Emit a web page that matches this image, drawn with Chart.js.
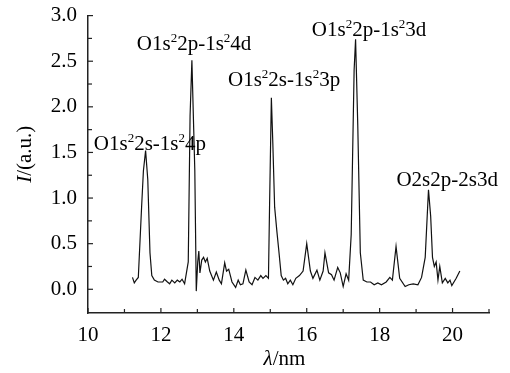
<!DOCTYPE html>
<html>
<head>
<meta charset="utf-8">
<script src="https://cdn.jsdelivr.net/npm/chart.js@4.4.0/dist/chart.umd.min.js"></script>
<style>
  body { margin: 0; background: #fff; }
  #wrap { width: 510px; height: 373px; }
</style>
</head>
<body>
<div id="wrap"><canvas id="spectrum"></canvas></div>
<script>
// Spectrum: wavelength (nm) and intensity (a.u.)
const wavelength = [
  11.22, 11.27, 11.32, 11.38, 11.47, 11.52, 11.58, 11.64, 11.70, 11.75,
  11.82, 11.92, 12.05, 12.10, 12.18, 12.24, 12.30, 12.38, 12.45, 12.52,
  12.58, 12.65, 12.75, 12.80, 12.85, 12.90, 12.93, 12.97, 13.01, 13.04,
  13.07, 13.12, 13.17, 13.22, 13.27, 13.34, 13.44, 13.52, 13.60, 13.66,
  13.75, 13.80, 13.86, 13.95, 14.05, 14.12, 14.18, 14.25, 14.33, 14.42,
  14.50, 14.58, 14.66, 14.74, 14.80, 14.88, 14.95, 14.98, 15.03, 15.07,
  15.12, 15.18, 15.24, 15.30, 15.36, 15.42, 15.48, 15.55, 15.62, 15.70,
  15.80, 15.90, 16.00, 16.10, 16.17, 16.28, 16.36, 16.45, 16.50, 16.60,
  16.68, 16.75, 16.85, 16.92, 17.00, 17.08, 17.15, 17.22, 17.30, 17.34,
  17.40, 17.47, 17.55, 17.65, 17.75, 17.85, 17.95, 18.05, 18.18, 18.28,
  18.35, 18.45, 18.55, 18.70, 18.80, 18.92, 19.05, 19.15, 19.25, 19.34,
  19.40, 19.45, 19.50, 19.55, 19.60, 19.65, 19.72, 19.80, 19.87, 19.93,
  19.98, 20.10, 20.20
];
const intensity = [
  0.13, 0.07, 0.10, 0.13, 0.90, 1.30, 1.52, 1.20, 0.40, 0.15,
  0.10, 0.08, 0.08, 0.11, 0.08, 0.06, 0.10, 0.07, 0.10, 0.08,
  0.11, 0.06, 0.30, 1.90, 2.51, 1.75, 1.30, -0.02, 0.30, 0.42,
  0.18, 0.32, 0.35, 0.30, 0.34, 0.20, 0.10, 0.19, 0.10, 0.06,
  0.29, 0.20, 0.22, 0.08, 0.02, 0.10, 0.05, 0.06, 0.21, 0.08,
  0.05, 0.13, 0.10, 0.15, 0.12, 0.15, 0.12, 0.90, 2.10, 1.60,
  0.90, 0.64, 0.40, 0.15, 0.10, 0.12, 0.06, 0.10, 0.05, 0.12,
  0.15, 0.20, 0.50, 0.20, 0.12, 0.21, 0.10, 0.20, 0.40, 0.18,
  0.16, 0.10, 0.24, 0.18, 0.03, 0.17, 0.10, 0.60, 2.40, 2.74,
  1.80, 0.40, 0.10, 0.08, 0.08, 0.05, 0.07, 0.05, 0.08, 0.13,
  0.10, 0.47, 0.12, 0.03, 0.05, 0.06, 0.05, 0.13, 0.35, 1.09,
  0.80, 0.35, 0.25, 0.30, 0.10, 0.25, 0.07, 0.12, 0.07, 0.10,
  0.04, 0.12, 0.20
];

// tick labels
const xTickLabels = [10, 12, 14, 16, 18, 20];
const yTickLabels = ['0.0', '0.5', '1.0', '1.5', '2.0', '2.5', '3.0'];

// peak labels ("^" = next char is superscript) and their anchors in data units
const peakLabels = ['O1s^22s-1s^24p', 'O1s^22p-1s^24d', 'O1s^22s-1s^23p', 'O1s^22p-1s^23d', 'O2s2p-2s3d'];
const peakLabelX = [10.16, 11.34, 13.84, 16.14, 18.46];
const peakLabelY = [1.53, 2.62, 2.23, 2.78, 1.13];

const FONT = '"Liberation Serif", "Times New Roman", serif';

const points = wavelength.map((w, i) => ({ x: w, y: intensity[i] }));

// draw text with single-character superscripts
function drawRich(ctx, str, x, y) {
  for (let i = 0; i < str.length; i++) {
    let ch = str[i];
    let sup = false;
    if (ch === '^') { sup = true; i++; ch = str[i]; }
    ctx.font = sup ? '13px ' + FONT : '21px ' + FONT;
    ctx.fillText(ch, x, sup ? y - 8 : y);
    x += ctx.measureText(ch).width;
  }
}

const decorPlugin = {
  id: 'decor',
  afterDraw(chart) {
    const ctx = chart.ctx;
    const xs = chart.scales.x, ys = chart.scales.y;
    const area = chart.chartArea;
    ctx.save();
    ctx.strokeStyle = '#222';
    ctx.lineWidth = 1.2;

    // inward tick marks
    for (let v = 10; v <= 21; v++) {
      const px = xs.getPixelForValue(v);
      const len = v % 2 === 0 ? 5 : 4;
      ctx.beginPath();
      ctx.moveTo(px, area.bottom);
      ctx.lineTo(px, area.bottom - len);
      ctx.stroke();
    }
    for (let v = 0; v <= 3.0001; v += 0.25) {
      const py = ys.getPixelForValue(v);
      const len = Math.round(v * 4) % 2 === 0 ? 5 : 4;
      ctx.beginPath();
      ctx.moveTo(area.left, py);
      ctx.lineTo(area.left + len, py);
      ctx.stroke();
    }

    // peak labels
    ctx.fillStyle = '#000';
    ctx.textBaseline = 'alphabetic';
    ctx.textAlign = 'left';
    peakLabels.forEach((txt, i) => {
      drawRich(ctx, txt, xs.getPixelForValue(peakLabelX[i]), ys.getPixelForValue(peakLabelY[i]));
    });

    // y axis title: I/(a.u.)
    ctx.translate(31, (area.top + area.bottom) / 2 - 10);
    ctx.rotate(-Math.PI / 2);
    ctx.font = 'italic 21px ' + FONT;
    const w1 = ctx.measureText('I').width;
    ctx.font = '21px ' + FONT;
    const w2 = ctx.measureText('/(a.u.)').width;
    let sx = -(w1 + w2) / 2;
    ctx.font = 'italic 21px ' + FONT;
    ctx.fillText('I', sx, 0);
    ctx.font = '21px ' + FONT;
    ctx.fillText('/(a.u.)', sx + w1, 0);
    ctx.setTransform(1, 0, 0, 1, 0, 0);

    // x axis title: λ/nm
    ctx.font = 'italic 21px ' + FONT;
    const l1 = ctx.measureText('λ').width;
    ctx.font = '21px ' + FONT;
    const l2 = ctx.measureText('/nm').width;
    const cx = (area.left + area.right) / 2 - 4;
    ctx.font = 'italic 21px ' + FONT;
    ctx.fillText('λ', cx - (l1 + l2) / 2, 365);
    ctx.font = '21px ' + FONT;
    ctx.fillText('/nm', cx - (l1 + l2) / 2 + l1, 365);
    ctx.restore();
  }
};

new Chart(document.getElementById('spectrum'), {
  type: 'line',
  data: {
    datasets: [{
      data: points,
      borderColor: '#111',
      borderWidth: 1.2,
      pointRadius: 0,
      tension: 0,
      fill: false
    }]
  },
  options: {
    responsive: true,
    maintainAspectRatio: false,
    animation: false,
    layout: { padding: { top: 13, right: 21, left: 0, bottom: 0 } },
    plugins: { legend: { display: false }, tooltip: { enabled: false } },
    scales: {
      x: {
        type: 'linear',
        min: 10,
        max: 21,
        grid: { display: false },
        border: { display: true, color: '#222', width: 1.5 },
        ticks: {
          stepSize: 1,
          autoSkip: false,
          maxRotation: 0,
          padding: 2,
          color: '#000',
          font: { family: FONT, size: 21 },
          callback: v => xTickLabels.includes(v) ? String(v) : ''
        },
        afterFit: s => { s.height = 60; }
      },
      y: {
        min: -0.26,
        max: 3.0,
        grid: { display: false },
        border: { display: true, color: '#222', width: 1.5 },
        ticks: {
          stepSize: 0.5,
          includeBounds: false,
          padding: 3,
          color: '#000',
          font: { family: FONT, size: 21 },
          callback: v => {
            const s = v.toFixed(1);
            return yTickLabels.includes(s) ? s : '';
          }
        },
        afterFit: s => { s.width = 88; }
      }
    }
  },
  plugins: [decorPlugin]
});
</script>
</body>
</html>
